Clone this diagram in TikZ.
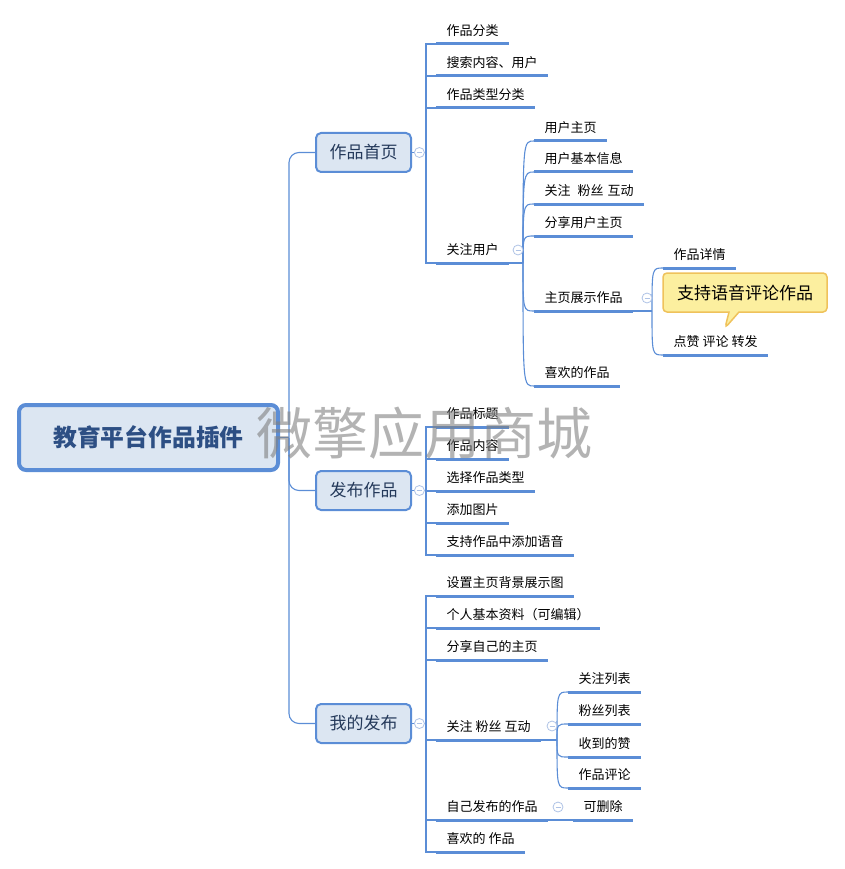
\documentclass[tikz,border=0pt]{standalone}
\usepackage{fontspec}
\setmainfont{Noto Sans CJK SC}
\usetikzlibrary{positioning,shapes.callouts}
\definecolor{mapline}{HTML}{5B8DD6}
\definecolor{boxfill}{HTML}{DCE6F2}
\definecolor{boxtext}{HTML}{24395A}
\definecolor{roottext}{HTML}{2D4F84}
\definecolor{foldline}{HTML}{AFC3E6}
\definecolor{notefill}{HTML}{FCEF9F}
\definecolor{noteline}{HTML}{EFC25B}

\begin{document}
\begin{tikzpicture}[x=1pt, y=-1pt]
                \tikzset{
                  root/.style={draw=mapline, line width=4pt, fill=boxfill, rounded corners=7pt, minimum width=259pt, minimum height=65pt, text=roottext, font=\fontsize{23.8}{24}\selectfont\bfseries},
                  topic/.style={draw=mapline, line width=2pt, fill=boxfill, rounded corners=5pt, minimum width=95pt, minimum height=39pt, text=boxtext, font=\fontsize{17}{17}\selectfont},
                  uline/.style={draw=mapline, line width=3pt},
                  leaf/.style={anchor=south west, inner xsep=10.5pt, inner ysep=6pt, text height=10pt, text depth=2pt, font=\fontsize{13}{13}\selectfont, append after command={(\tikzlastnode.south west) edge[uline] (\tikzlastnode.south east)}},
                  link/.style={draw=mapline, line width=1.1pt},
                  elbow/.style={to path={|- (\tikztotarget)}},
                  curve/.style={to path={.. controls (\tikztostart |- \tikztotarget) .. (\tikztotarget)}},
                  fold/.style={circle, draw=foldline, fill=white, line width=0.8pt, inner sep=0pt, minimum size=10pt, path picture={\draw[foldline, line width=0.8pt] ([xshift=-2.5pt]path picture bounding box.center) -- ([xshift=2.5pt]path picture bounding box.center);}},
                  note/.style={rectangle callout, draw=noteline, line width=1.5pt, fill=notefill, rounded corners=4pt, minimum width=164pt, minimum height=39pt, callout pointer width=10pt, font=\fontsize{17}{17}\selectfont},
                  wmark/.style={text=gray, opacity=0.6, font=\fontsize{56}{56}\selectfont}
                }
                \useasboundingbox (0,0) rectangle (844,869);
                \node[root] (edu) at (148.5,437.5) {教育平台作品插件};
                \node[topic] (home) at (363.5,152.5) {作品首页};
                \node[topic] (post) at (363.5,490.5) {发布作品};
                \node[topic] (mine) at (363.5,723.5) {我的发布};
                \coordinate (hub) at (289,437.5);
                \coordinate (t1) at (426,152.5);
                \coordinate (t2) at (426,490.5);
                \coordinate (t3) at (426,723.5);
                \coordinate (p1) at (523,263);
                \coordinate (p2) at (652,311);
                \coordinate (p3) at (557,740);
                \node[leaf] (a1) at (436,44) {作品分类};
                \node[leaf] (a2) at (436,76) {搜索内容、用户};
                \node[leaf] (a3) at (436,108) {作品类型分类};
                \node[leaf] (a4) at (436,263) {关注用户};
                \node[leaf] (u1) at (534,141) {用户主页};
                \node[leaf] (u2) at (534,172) {用户基本信息};
                \node[leaf] (u3) at (534,204) {关注\hspace{7pt}粉丝\hspace{4pt}互动};
                \node[leaf] (u4) at (534,236) {分享用户主页};
                \node[leaf] (u5) at (534,311) {主页展示作品};
                \node[leaf] (u6) at (534,386) {喜欢的作品};
                \node[leaf] (w1) at (663,268) {作品详情};
                \node[leaf] (w2) at (663,355) {点赞 评论 转发};
                \node[leaf] (f1) at (436,427) {作品标题};
                \node[leaf] (f2) at (436,459) {作品内容};
                \node[leaf] (f3) at (436,491) {选择作品类型};
                \node[leaf] (f4) at (436,523) {添加图片};
                \node[leaf] (f5) at (436,555) {支持作品中添加语音};
                \node[leaf] (m1) at (436,596) {设置主页背景展示图};
                \node[leaf] (m2) at (436,628) {个人基本资料（可编辑）};
                \node[leaf] (m3) at (436,660) {分享自己的主页};
                \node[leaf] (m4) at (436,740) {关注 粉丝 互动};
                \node[leaf] (m5) at (436,820) {自己发布的作品};
                \node[leaf] (m6) at (436,852) {喜欢的 作品};
                \node[leaf] (s1) at (568,692) {关注列表};
                \node[leaf] (s2) at (568,724) {粉丝列表};
                \node[leaf] (s3) at (568,757) {收到的赞};
                \node[leaf] (s4) at (568,788) {作品评论};
                \node[leaf] (d1) at (573,820) {可删除};
                \path[link]
                    (edu) edge (hub)
                    (hub) edge [elbow, rounded corners=10pt] (home.west)
                          edge [elbow, rounded corners=10pt] (post.west)
                          edge [elbow, rounded corners=10pt] (mine.west)
                    (home) edge (t1)
                    (t1) edge [elbow] (a1.south west)
                         edge [elbow] (a2.south west)
                         edge [elbow] (a3.south west)
                         edge [elbow] (a4.south west)
                    (a4.south east) edge (p1)
                    (p1) edge [curve] (u1.south west)
                         edge [curve] (u2.south west)
                         edge [curve] (u3.south west)
                         edge [curve] (u4.south west)
                         edge [curve] (u5.south west)
                         edge [curve] (u6.south west)
                    (u5.south east) edge (p2)
                    (p2) edge [curve] (w1.south west)
                         edge [curve] (w2.south west)
                    (post) edge (t2)
                    (t2) edge [elbow] (f1.south west)
                         edge [elbow] (f2.south west)
                         edge [elbow] (f3.south west)
                         edge [elbow] (f4.south west)
                         edge [elbow] (f5.south west)
                    (mine) edge (t3)
                    (t3) edge [elbow] (m1.south west)
                         edge [elbow] (m2.south west)
                         edge [elbow] (m3.south west)
                         edge [elbow] (m4.south west)
                         edge [elbow] (m5.south west)
                         edge [elbow] (m6.south west)
                    (m4.south east) edge (p3)
                    (p3) edge [curve] (s1.south west)
                         edge [curve] (s2.south west)
                         edge [curve] (s3.south west)
                         edge [curve] (s4.south west)
                    (m5.south east) edge (d1.south west);
                \node[fold, right=2pt of home] (k1) {};
                \node[fold, right=2pt of post] (k2) {};
                \node[fold, right=2pt of mine] (k3) {};
                \node[fold] (k4) at (518,250) {};
                \node[fold] (k5) at (647,298) {};
                \node[fold] (k6) at (552,726) {};
                \node[fold] (k7) at (558,807) {};
                \node[note, callout absolute pointer={(725,328)}] (n1) at (745,292.5) {支持语音评论作品};
                \node[wmark] (wm) at (424,433) {微擎应用商城};
            \end{tikzpicture}
\end{document}
